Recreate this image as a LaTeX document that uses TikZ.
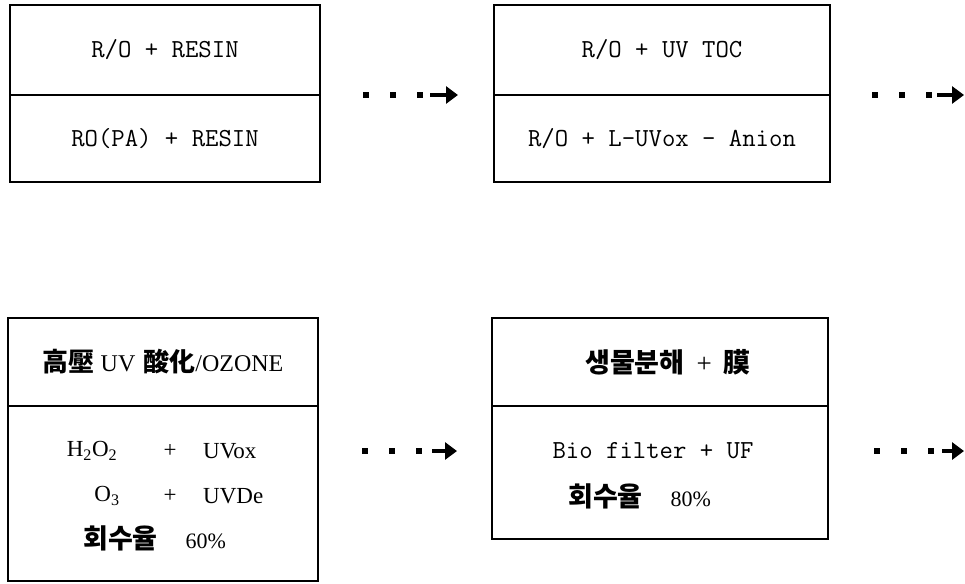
\documentclass[tikz,border=0pt]{standalone}
\usepackage{fontspec}
\setmainfont{Liberation Serif}
\newfontfamily\cjk{Noto Sans CJK KR}
\usetikzlibrary{arrows.meta,positioning}
\tikzset{
  cell/.style={draw, line width=1.6pt, inner sep=0pt, outer sep=0pt,
               minimum width=310pt, minimum height=88pt,
               font=\fontsize{26}{30}\selectfont\ttfamily},
  widecell/.style={cell, minimum width=336pt},
  txt/.style={inner sep=0pt, font=\fontsize{23}{26}\selectfont},
  hangul/.style={inner sep=0pt, font=\fontsize{27}{30}\selectfont\cjk\bfseries},
  dots/.style={line width=6pt, dash pattern=on 6pt off 21pt},
  head/.style={-{Triangle[length=12pt, width=17pt]}, line width=4pt},
}
\newcommand{\pct}[1]{{\fontsize{22}{26}\selectfont\rmfamily\mdseries #1}}
\begin{document}
\begin{tikzpicture}[x=1pt, y=-1pt]
  \useasboundingbox (0,0) rectangle (965,583);

  % --- first row -----------------------------------------------------------
  \node[cell, minimum height=90pt] (ro) at (165,50) {R/O + RESIN};
  \node[cell, minimum height=87pt, below=0pt of ro] (ropa) {RO(PA) + RESIN};
  \node[widecell, minimum height=90pt] (uvtoc) at (662,50) {R/O + UV TOC};
  \node[widecell, minimum height=87pt, below=0pt of uvtoc] (anion)
    {R/O + L-UVox - Anion};

  % --- second row ----------------------------------------------------------
  \node[cell] (ozone) at (163,362) {};
  \node[cell, minimum height=175pt, below=0pt of ozone] (oxid) {};
  \node[widecell] (bio) at (660,362) {};
  \node[widecell, minimum height=133pt, below=0pt of bio] (biouf) {};

  % texts of the second row
  \node[txt, font=\fontsize{24}{28}\selectfont] (ozonetxt) at (ozone)
    {{\fontsize{26}{30}\selectfont\cjk\bfseries 高壓}\hspace{6pt}UV\hspace{8pt}{\fontsize{26}{30}\selectfont\cjk\bfseries 酸化}/OZONE};
  \node[txt] (hoo) at (92,451) {H\textsubscript{2}O\textsubscript{2}};
  \node[txt] (plusa) at (170,451) {+};
  \node[txt, anchor=west] (uvox) at (203,451) {UVox};
  \node[txt] (ooo) at (107,496) {O\textsubscript{3}};
  \node[txt] (plusb) at (170,496) {+};
  \node[txt, anchor=west] (uvde) at (203,496) {UVDe};
  \node[hangul, anchor=west] (rate60) at (83,538) {회수율\hspace{28pt}\pct{60\%}};

  \node[hangul] (biotxt) at (668,362)
    {생물분해\hspace{12pt}{\rmfamily\mdseries +}\hspace{12pt}膜};
  \node[inner sep=0pt, font=\fontsize{26}{30}\selectfont\ttfamily] (filter)
    at (653,451) {Bio filter + UF};
  \node[hangul, anchor=west] (rate80) at (568,496) {회수율\hspace{28pt}\pct{80\%}};

  % --- dotted arrows -------------------------------------------------------
  \coordinate (a1) at (363,95);  \coordinate (a1m) at (430,95);  \coordinate (a1e) at (458,95);
  \coordinate (a2) at (872,95);  \coordinate (a2m) at (937,95);  \coordinate (a2e) at (964,95);
  \coordinate (a3) at (362,451); \coordinate (a3m) at (432,451); \coordinate (a3e) at (457,451);
  \coordinate (a4) at (874,451); \coordinate (a4m) at (942,451); \coordinate (a4e) at (964,451);
  \draw[dots] (a1) -- (a1m);  \draw[head] (a1m) -- (a1e);
  \draw[dots] (a2) -- (a2m);  \draw[head] (a2m) -- (a2e);
  \draw[dots] (a3) -- (a3m);  \draw[head] (a3m) -- (a3e);
  \draw[dots] (a4) -- (a4m);  \draw[head] (a4m) -- (a4e);
\end{tikzpicture}
\end{document}
